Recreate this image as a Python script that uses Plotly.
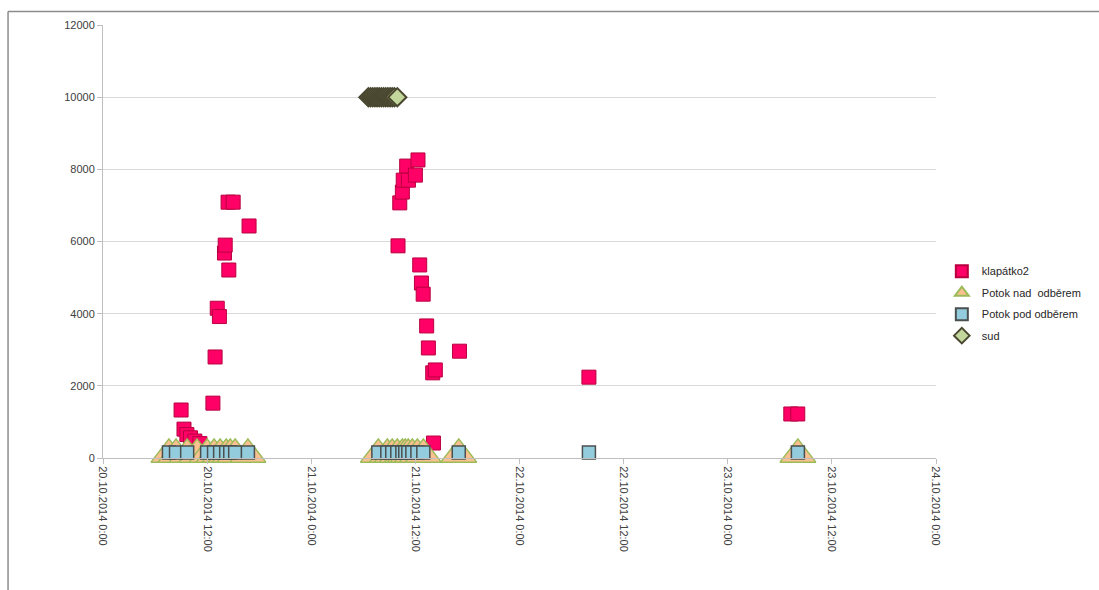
import plotly.graph_objects as go

# --- data -----------------------------------------------------------------
klapatko_time = [
    "2014-10-20 09:00", "2014-10-20 09:20", "2014-10-20 09:40", "2014-10-20 10:05",
    "2014-10-20 10:35", "2014-10-20 11:10", "2014-10-20 12:40", "2014-10-20 12:55",
    "2014-10-20 13:10", "2014-10-20 13:25", "2014-10-20 14:00", "2014-10-20 14:05",
    "2014-10-20 14:30", "2014-10-20 14:25", "2014-10-20 15:00", "2014-10-20 16:50",
    "2014-10-21 10:00", "2014-10-21 10:12", "2014-10-21 10:30", "2014-10-21 10:36",
    "2014-10-21 11:00", "2014-10-21 11:12", "2014-10-21 12:00", "2014-10-21 12:18",
    "2014-10-21 12:30", "2014-10-21 12:42", "2014-10-21 12:54", "2014-10-21 13:18",
    "2014-10-21 13:30", "2014-10-21 14:00", "2014-10-21 14:18", "2014-10-21 14:05",
    "2014-10-21 17:05", "2014-10-22 08:00", "2014-10-23 07:16", "2014-10-23 08:04",
]
klapatko_val = [
    1330, 800, 650, 560,
    470, 400, 1520, 2800,
    4150, 3920, 5680, 5900,
    5210, 7090, 7090, 6430,
    5880, 7070, 7370, 7700,
    8090, 7700, 7840, 8260,
    5350, 4850, 4540, 3660,
    3050, 2360, 2440, 415,
    2960, 2240, 1220, 1220,
]

nad_time = [
    "2014-10-20 07:36", "2014-10-20 08:25", "2014-10-20 09:42", "2014-10-20 10:50",
    "2014-10-20 12:00", "2014-10-20 12:48", "2014-10-20 13:30", "2014-10-20 14:12",
    "2014-10-20 14:40", "2014-10-20 15:14", "2014-10-20 16:42",
    "2014-10-21 07:44", "2014-10-21 08:46", "2014-10-21 09:20", "2014-10-21 09:55",
    "2014-10-21 10:30", "2014-10-21 10:50", "2014-10-21 11:11", "2014-10-21 11:39",
    "2014-10-21 12:14", "2014-10-21 12:55", "2014-10-21 17:00",
    "2014-10-23 08:05",
]
nad_val = [100] * 23

pod_time = [
    "2014-10-20 07:36", "2014-10-20 08:25", "2014-10-20 09:42", "2014-10-20 12:00",
    "2014-10-20 12:48", "2014-10-20 13:30", "2014-10-20 14:12", "2014-10-20 14:40",
    "2014-10-20 15:14", "2014-10-20 16:42",
    "2014-10-21 07:44", "2014-10-21 08:46", "2014-10-21 09:20", "2014-10-21 09:55",
    "2014-10-21 10:30", "2014-10-21 10:50", "2014-10-21 11:11", "2014-10-21 11:39",
    "2014-10-21 12:14", "2014-10-21 12:55", "2014-10-21 17:00",
    "2014-10-22 08:00", "2014-10-23 08:05",
]
pod_val = [150] * 23

sud_time = [
    "2014-10-21 06:35", "2014-10-21 06:50", "2014-10-21 07:05", "2014-10-21 07:20",
    "2014-10-21 07:35", "2014-10-21 07:50", "2014-10-21 08:05", "2014-10-21 08:20",
    "2014-10-21 08:35", "2014-10-21 08:50", "2014-10-21 09:05", "2014-10-21 09:20",
    "2014-10-21 09:35", "2014-10-21 09:55",
]
sud_val = [10000] * 14

tick_vals = [
    "2014-10-20 00:00", "2014-10-20 12:00", "2014-10-21 00:00", "2014-10-21 12:00",
    "2014-10-22 00:00", "2014-10-22 12:00", "2014-10-23 00:00", "2014-10-23 12:00",
    "2014-10-24 00:00",
]
tick_text = [
    "20.10.2014 0:00", "20.10.2014 12:00", "21.10.2014 0:00", "21.10.2014 12:00",
    "22.10.2014 0:00", "22.10.2014 12:00", "23.10.2014 0:00", "23.10.2014 12:00",
    "24.10.2014 0:00",
]

# --- figure ---------------------------------------------------------------
fig = go.Figure()

fig.add_trace(go.Scatter(
    x=klapatko_time, y=klapatko_val, mode="markers", name="klapátko2",
    legendgroup="a", cliponaxis=False,
    marker=dict(symbol="square", size=14, color="#ff0066",
                line=dict(color="#b8003f", width=1)),
))
fig.add_trace(go.Scatter(
    x=nad_time, y=nad_val, mode="markers", name="Potok nad\u00a0 odběrem",
    legendgroup="b", cliponaxis=False,
    marker=dict(symbol="triangle-up", size=31, color="#fac090",
                line=dict(color="#9bbb59", width=1.5)),
))
fig.add_trace(go.Scatter(
    x=pod_time, y=pod_val, mode="markers", name="Potok pod odběrem",
    legendgroup="c", cliponaxis=False,
    marker=dict(symbol="square", size=13, color="#93cddd",
                line=dict(color="#4a4f4f", width=1.5)),
))
fig.add_trace(go.Scatter(
    x=sud_time, y=sud_val, mode="markers", name="sud",
    legendgroup="d", cliponaxis=False,
    marker=dict(symbol="diamond", size=14, color="#c3d69b",
                line=dict(color="#4a4730", width=2)),
))

# outer frame (top and left edges)
frame = dict(type="line", xref="paper", yref="paper",
             line=dict(color="#8c8c8c", width=1.5))
fig.add_shape(**frame, x0=-0.114, x1=1.196, y0=1.031, y1=1.031)
fig.add_shape(**frame, x0=-0.114, x1=-0.114, y0=1.031, y1=-0.31)

axis_font = dict(family="Liberation Sans", size=11, color="#404040")

fig.update_layout(
    width=1099, height=590,
    margin=dict(l=103, r=163, t=25, b=132),
    paper_bgcolor="white", plot_bgcolor="white",
    showlegend=True,
    legend=dict(x=1.007, y=0.465, xanchor="left", yanchor="top",
                font=dict(family="Liberation Sans", size=11, color="#262626"),
                itemsizing="constant", tracegroupgap=2.5,
                traceorder="grouped",
                bgcolor="rgba(0,0,0,0)"),
    xaxis=dict(
        type="date",
        range=["2014-10-20 00:00", "2014-10-24 00:00"],
        tickmode="array", tickvals=tick_vals, ticktext=tick_text,
        tickangle=90, tickfont=axis_font,
        showgrid=False, zeroline=False,
        showline=True, linecolor="#bfbfbf", linewidth=1,
        ticks="outside", ticklen=5, tickcolor="#bfbfbf",
    ),
    yaxis=dict(
        range=[0, 12000], dtick=2000, tick0=0, tickformat="d",
        tickfont=axis_font,
        showgrid=True, gridcolor="#d9d9d9", gridwidth=1,
        zeroline=False,
        showline=True, linecolor="#bfbfbf", linewidth=1,
        ticks="outside", ticklen=5, tickcolor="#bfbfbf",
    ),
)

fig.write_html("out.html")
